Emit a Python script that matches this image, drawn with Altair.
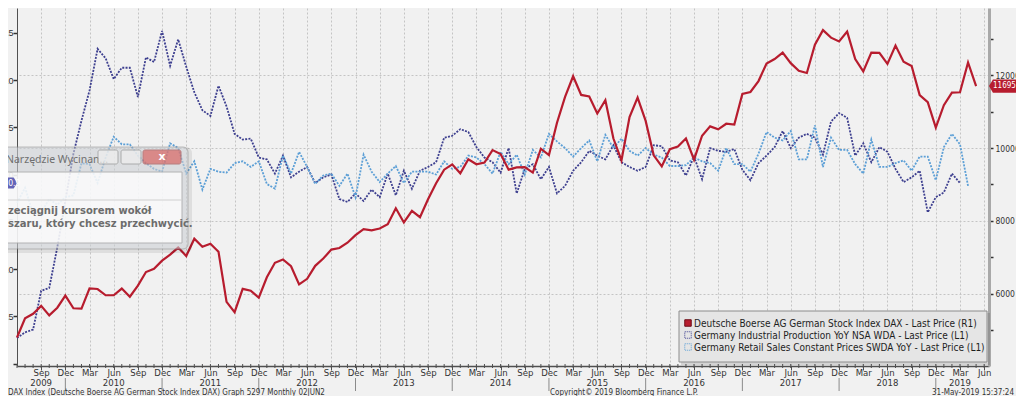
import altair as alt
import pandas as pd

# ---------------- data ----------------
quarter_names = ["Jun", "Sep", "Dec", "Mar"]          # label for month index i where (i/3)%4
year_labels = ["2009", "2010", "2011", "2012", "2013", "2014", "2015", "2016", "2017", "2018", "2019"]
year_pos = [3, 12, 24, 36, 48, 60, 72, 84, 96, 108, 117]
year_sep = [6, 18, 30, 42, 54, 66, 78, 90, 102, 114]

# DAX monthly last price, Jun 2009 .. May 2019
dax = [4808, 5332, 5458, 5675, 5415, 5625, 5957,
       5608, 5598, 6154, 6136, 5965, 5966, 6148, 5925, 6229, 6601, 6688, 6914,
       7077, 7272, 7041, 7514, 7294, 7376, 7159, 5785, 5502, 6141, 6089, 5898,
       6458, 6856, 6947, 6761, 6264, 6416, 6772, 6970, 7216, 7260, 7405, 7612,
       7776, 7742, 7795, 7914, 8349, 7959, 8276, 8104, 8594, 9033, 9406, 9552,
       9306, 9692, 9556, 9603, 9943, 9833, 9407, 9470, 9474, 9326, 9980, 9806,
       10694, 11402, 11966, 11454, 11413, 10945, 11309, 10259, 9660, 10850, 11382, 10743,
       9798, 9495, 9966, 10039, 10263, 9680, 10337, 10593, 10511, 10665, 10640, 11481,
       11535, 11834, 12313, 12438, 12615, 12325, 12118, 12056, 12829, 13230, 13024, 12918,
       13189, 12436, 12097, 12612, 12605, 12306, 12806, 12364, 12247, 11448, 11257, 10559,
       11173, 11516, 11526, 12344, 11695.93]

# Germany Industrial Production YoY, Jun 2009 .. Mar 2019
ip = [-17.3, -16.7, -16.4, -12.3, -12.0, -7.7, -2.8,
      2.2, 5.7, 8.9, 13.3, 12.3, 10.1, 11.3, 11.3, 8.2, 12.4, 11.9, 15.2,
      11.5, 14.3, 11.4, 8.7, 6.8, 6.2, 9.4, 7.2, 4.3, 3.7, 3.8, 1.8,
      1.6, 0.1, 2.0, -0.3, 0.3, 0.8, -0.9, -0.3, 0.0, -2.6, -2.9, -2.0,
      -2.8, -1.6, -2.4, 0.1, -2.2, 0.4, -1.5, 0.4, 0.8, 1.3, 3.9, 4.1,
      4.8, 4.5, 2.9, 1.8, 1.3, 0.2, 2.8, -2.0, 0.6, 1.1, -0.5, 0.8,
      -2.0, -1.2, 0.4, 1.3, 2.5, 2.0, 1.6, 3.1, 1.3, 0.8, 0.4, 0.8,
      3.1, 3.0, 1.5, 1.3, -0.1, 1.9, -0.5, 2.8, 2.5, 2.4, 2.7, 0.5,
      -0.6, 1.2, 2.0, 2.9, 4.6, 2.8, 3.9, 4.3, 3.9, 2.1, 5.6, 6.5,
      6.0, 2.0, 3.3, 1.3, 2.9, 2.4, 0.6, -0.8, -0.3, 0.4, -4.0, -2.4,
      -1.9, 0.1, -0.9]

# Germany Retail Sales YoY, Jun 2009 .. Apr 2019
retail = [-3.0, -1.4, -4.2, -4.0, -2.6, -3.2, -2.4,
          -2.2, 1.2, 1.1, -0.9, 1.8, 4.0, 3.2, 3.2, 2.0, 1.2, 0.6, 0.3,
          3.3, 2.8, 0.1, 1.4, -1.6, 0.6, 0.3, 0.2, 1.2, 1.4, 0.8, 1.4,
          -1.0, -1.5, 2.0, 0.1, 2.4, 0.8, -1.0, -0.1, 0.1, -1.2, 0.1, -2.4,
          2.1, 0.3, -0.8, 0.1, 0.9, -0.9, 0.3, 0.3, 0.3, 0.0, 1.4, 0.6,
          0.8, 2.0, 1.8, 1.1, 0.1, 2.4, 1.1, 2.1, 0.0, 2.6, 1.8, 4.3,
          3.5, 2.8, 1.9, 2.8, 3.6, 1.4, 4.2, 2.8, 3.8, 2.5, 2.0, 2.8,
          2.1, 1.8, 0.9, 0.9, 1.0, 1.8, 1.4, 1.2, 0.4, 2.8, 1.1, 1.1,
          0.3, 2.2, 4.5, 3.9, 3.6, 4.6, 1.6, 1.6, 5.2, 0.8, 3.9, 2.6,
          2.6, 1.1, 0.1, 3.7, 0.8, 0.8, 1.2, 1.5, 0.4, 1.9, 1.9, -0.6,
          2.9, 4.3, 3.2, -1.2]

series_names = [
    "Deutsche Boerse AG German Stock Index DAX - Last Price (R1)",
    "Germany Industrial Production YoY NSA WDA - Last Price (L1)",
    "Germany Retail Sales Constant Prices SWDA YoY - Last Price (L1)",
]
footer_left = "DAX Index (Deutsche Boerse AG German Stock Index DAX) Graph 5297  Monthly 02JUN2"
footer_mid = "Copyright\u00a9 2019 Bloomberg Finance L.P."
footer_right = "31-May-2019 15:37:24"
popup_title = "Narz\u0119dzie Wycinan..."
popup_line1 = "zeci\u0105gnij kursorem wok\u00f3\u0142"
popup_line2 = "szaru, kt\u00f3ry chcesz przechwyci\u0107."

# ---------------- style ----------------
C_DAX = "#b71c2e"
C_IP = "#3d3f8f"
C_RT = "#5c9fd6"
C_TAG_IP = "#6363b6"
BG = "#f1f1f1"
FN = "Liberation Sans Narrow, DejaVu Sans Condensed, Arial Narrow, sans-serif"
FR = "Liberation Sans, Arial, sans-serif"

W, H = 972, 358
X_DOM = [0, 120.6]
L_DOM = [-20.26, 17.62]
R_DOM = [4027, 13836]

df_dax = pd.DataFrame({"m": list(range(len(dax))), "v": dax})
df_ip = pd.DataFrame({"m": list(range(len(ip))), "v": ip})
df_rt = pd.DataFrame({"m": list(range(len(retail))), "v": retail})
one = pd.DataFrame({"k": [0]})

label_expr = "[" + ",".join("'" + s + "'" for s in quarter_names) + "][(datum.value/3)%4]"
x_axis = alt.Axis(values=list(range(3, 121, 3)), labelExpr=label_expr, grid=True,
                  gridColor="#c4c4c4", gridDash=[2, 2], gridWidth=1,
                  domainColor="#505050", domainWidth=1.5, tickColor="#505050",
                  tickSize=4, labelPadding=-3, labelFont=FN, labelFontSize=9.5,
                  labelColor="#333333", title=None, labelFlush=False, labelOverlap=False)
x_scale = alt.Scale(domain=X_DOM, nice=False, zero=False)


def X(field="m"):
    return alt.X(field + ":Q", scale=x_scale, axis=x_axis)


l_scale = alt.Scale(domain=L_DOM, nice=False, zero=False)
YL = alt.Y("v:Q", scale=l_scale,
           axis=alt.Axis(orient="left", values=[-20, -15, -10, -5, 0, 5, 10, 15], grid=False,
                         labelExpr="datum.value == -20 ? '' : datum.label",
                         domainColor="#505050", tickColor="#333333", tickSize=4, tickWidth=1.5,
                         labelFont=FR, labelFontSize=9, labelColor="#333333", labelPadding=0,
                         title=None))
YR = alt.Y("v:Q", scale=alt.Scale(domain=R_DOM, nice=False, zero=False),
           axis=alt.Axis(orient="right", values=list(range(5000, 14000, 1000)), format="d",
                         labelExpr="datum.value % 2000 == 0 ? datum.label : ''",
                         grid=True, gridColor="#c4c4c4", gridDash=[2, 2],
                         gridOpacity={"condition": {"test": "datum.value % 2000 != 0", "value": 0}, "value": 1},
                         domainColor="#a9a9a9", domainWidth=3, tickColor="#333333",
                         tickSize=4, tickWidth=1.5, labelFont=FN, labelFontSize=8.5,
                         labelColor="#333333", labelPadding=2, title=None))

# ---------------- left (L1) series ----------------
ip_line = alt.Chart(df_ip).mark_line(color=C_IP, strokeWidth=1.8, strokeDash=[2, 1.3]).encode(x=X(), y=YL)
rt_line = alt.Chart(df_rt).mark_line(color=C_RT, strokeWidth=1.8, strokeDash=[2, 1.3]).encode(x=X(), y=YL)
left = alt.layer(ip_line, rt_line)

# last-value tag on the left axis (same fixed domain, no extra axis)
YL_tag = alt.Y("v:Q", scale=l_scale, axis=None)
tag_left_shape = "M1,0 L0.78,-0.37 L-1,-0.37 L-1,0.37 L0.78,0.37 Z"
ip_tag = alt.Chart(df_ip.tail(1)).mark_point(shape=tag_left_shape, filled=True, fill=C_TAG_IP,
                                             opacity=1, size=900).encode(x=alt.value(-15), y=YL_tag)
ip_tag_txt = alt.Chart(df_ip.tail(1)).mark_text(color="white", fontSize=8.5, font=FN).encode(
    x=alt.value(-6), y=YL_tag, text=alt.Text("v:Q", format=".1f"))

# ---------------- right (R1) series ----------------
dax_line = alt.Chart(df_dax).mark_line(color=C_DAX, strokeWidth=2.2).encode(x=X(), y=YR)
tag_right_shape = "M-1,0 L-0.78,-0.37 L1,-0.37 L1,0.37 L-0.78,0.37 Z"
dax_tag = alt.Chart(df_dax.tail(1)).mark_point(shape=tag_right_shape, filled=True, fill=C_DAX,
                                               opacity=1, size=1300).encode(x=alt.value(W + 18), y=YR)
dax_tag_txt = alt.Chart(df_dax.tail(1)).mark_text(color="white", fontSize=8, font=FN, align="left").encode(
    x=alt.value(W + 4), y=YR, text=alt.Text("v:Q", format=".2f"))
right = alt.layer(dax_line, dax_tag, dax_tag_txt)

# ---------------- x axis extras ----------------
df_minor = pd.DataFrame({"m": list(range(0, 121))})
minor = alt.Chart(df_minor).mark_rule(color="#505050", strokeWidth=1).encode(
    x=X(), y=alt.value(H - 2), y2=alt.value(H + 2))
df_sep = pd.DataFrame({"m": year_sep})
seps = alt.Chart(df_sep).mark_rule(color="#8a8a8a", strokeWidth=1).encode(
    x=X(), y=alt.value(H + 12), y2=alt.value(H + 25))
df_years = pd.DataFrame({"m": year_pos, "t": year_labels})
years = alt.Chart(df_years).mark_text(font=FN, fontSize=9.5, color="#333333", baseline="middle").encode(
    x=X(), y=alt.value(H + 17), text="t:N")

# ---------------- legend ----------------
lg_shadow = alt.Chart(one).mark_rect(fill="#000000", opacity=0.12).encode(
    x=alt.value(664), x2=alt.value(973), y=alt.value(305), y2=alt.value(357))
lg_box = alt.Chart(one).mark_rect(fill="#e5e5e5", stroke="#8c8c8c", strokeWidth=1).encode(
    x=alt.value(662), x2=alt.value(970), y=alt.value(303), y2=alt.value(354))
lg_layers = [lg_shadow, lg_box]
lg_rows = [315, 327, 339]
sym_styles = [
    dict(filled=True, fill=C_DAX, stroke="#6d0f19", strokeWidth=1),
    dict(filled=False, stroke=C_IP, strokeWidth=1, strokeDash=[1, 1]),
    dict(filled=False, stroke=C_RT, strokeWidth=1, strokeDash=[1, 1]),
]
for name, yy, st in zip(series_names, lg_rows, sym_styles):
    lg_layers.append(alt.Chart(one).mark_point(shape="square", size=42, opacity=1, **st).encode(
        x=alt.value(671), y=alt.value(yy)))
    lg_layers.append(alt.Chart(one).mark_text(font=FN, fontSize=10, color="#1e1e1e", align="left",
                                              baseline="middle").encode(
        x=alt.value(677), y=alt.value(yy + 0.5), text=alt.value(name)))

# ---------------- snipping tool window ----------------
pp = []
pp.append(alt.Chart(one).mark_rect(fill="#000000", opacity=0.08, cornerRadius=6).encode(
    x=alt.value(-20), x2=alt.value(175), y=alt.value(139), y2=alt.value(245)))
pp.append(alt.Chart(one).mark_rect(fill="#d9dde2", opacity=0.55, stroke="#8e8e8e", strokeWidth=1,
                                   cornerRadius=5).encode(
    x=alt.value(-20), x2=alt.value(171), y=alt.value(139), y2=alt.value(241)))
pp.append(alt.Chart(one).mark_rect(fill="#ffffff", opacity=0.78, stroke="#a8a8a8", strokeWidth=1).encode(
    x=alt.value(-20), x2=alt.value(165), y=alt.value(164), y2=alt.value(235)))
pp.append(alt.Chart(one).mark_rule(color="#d0d0d0", strokeWidth=1).encode(
    x=alt.value(-20), x2=alt.value(165), y=alt.value(192)))
pp.append(alt.Chart(one).mark_text(font="Noto Sans, DejaVu Sans, sans-serif", fontSize=10.5,
                                   color="#6f6f6f", align="left", baseline="middle").encode(
    x=alt.value(-11), y=alt.value(152), text=alt.value(popup_title)))
for x0, x1 in [(81, 101), (104, 124)]:
    pp.append(alt.Chart(one).mark_rect(fill="#eeeeee", opacity=0.75, stroke="#9a9a9a", strokeWidth=1,
                                       cornerRadius=2).encode(
        x=alt.value(x0), x2=alt.value(x1), y=alt.value(142), y2=alt.value(156)))
pp.append(alt.Chart(one).mark_rect(fill="#d9534f", opacity=0.6, stroke="#a04040", strokeWidth=1,
                                   cornerRadius=2).encode(
    x=alt.value(126), x2=alt.value(164), y=alt.value(142), y2=alt.value(156)))
pp.append(alt.Chart(one).mark_text(font="DejaVu Sans, sans-serif", fontSize=11, fontWeight="bold",
                                   color="#ffffff").encode(
    x=alt.value(145), y=alt.value(149), text=alt.value("x")))
pp.append(alt.Chart(one).mark_text(font="DejaVu Sans, sans-serif", fontSize=10, fontWeight="bold",
                                   color="#6c6c6c", align="left", baseline="middle").encode(
    x=alt.value(-9), y=alt.value(203), text=alt.value(popup_line1)))
pp.append(alt.Chart(one).mark_text(font="DejaVu Sans, sans-serif", fontSize=10, fontWeight="bold",
                                   color="#6c6c6c", align="left", baseline="middle").encode(
    x=alt.value(-9), y=alt.value(216), text=alt.value(popup_line2)))

# ---------------- footer ----------------
ft = []
for txt, xx, al in [(footer_left, -9, "left"), (footer_mid, 533, "left"), (footer_right, 997, "right")]:
    ft.append(alt.Chart(one).mark_text(font=FN, fontSize=8, color="#333333", align=al,
                                       baseline="middle").encode(
        x=alt.value(xx), y=alt.value(H + 27), text=alt.value(txt)))

chart = alt.layer(
    left, right, minor, seps, years, *lg_layers, *pp, ip_tag, ip_tag_txt, *ft
).resolve_scale(y="independent").properties(
    width=W, height=H,
    autosize=alt.AutoSizeParams(type="none"),
    padding={"left": 9, "top": 0, "right": 27, "bottom": 30},
    background=BG,
).configure_view(stroke=None)

chart.save("out.html", embed_options={"renderer": "svg", "actions": False})
